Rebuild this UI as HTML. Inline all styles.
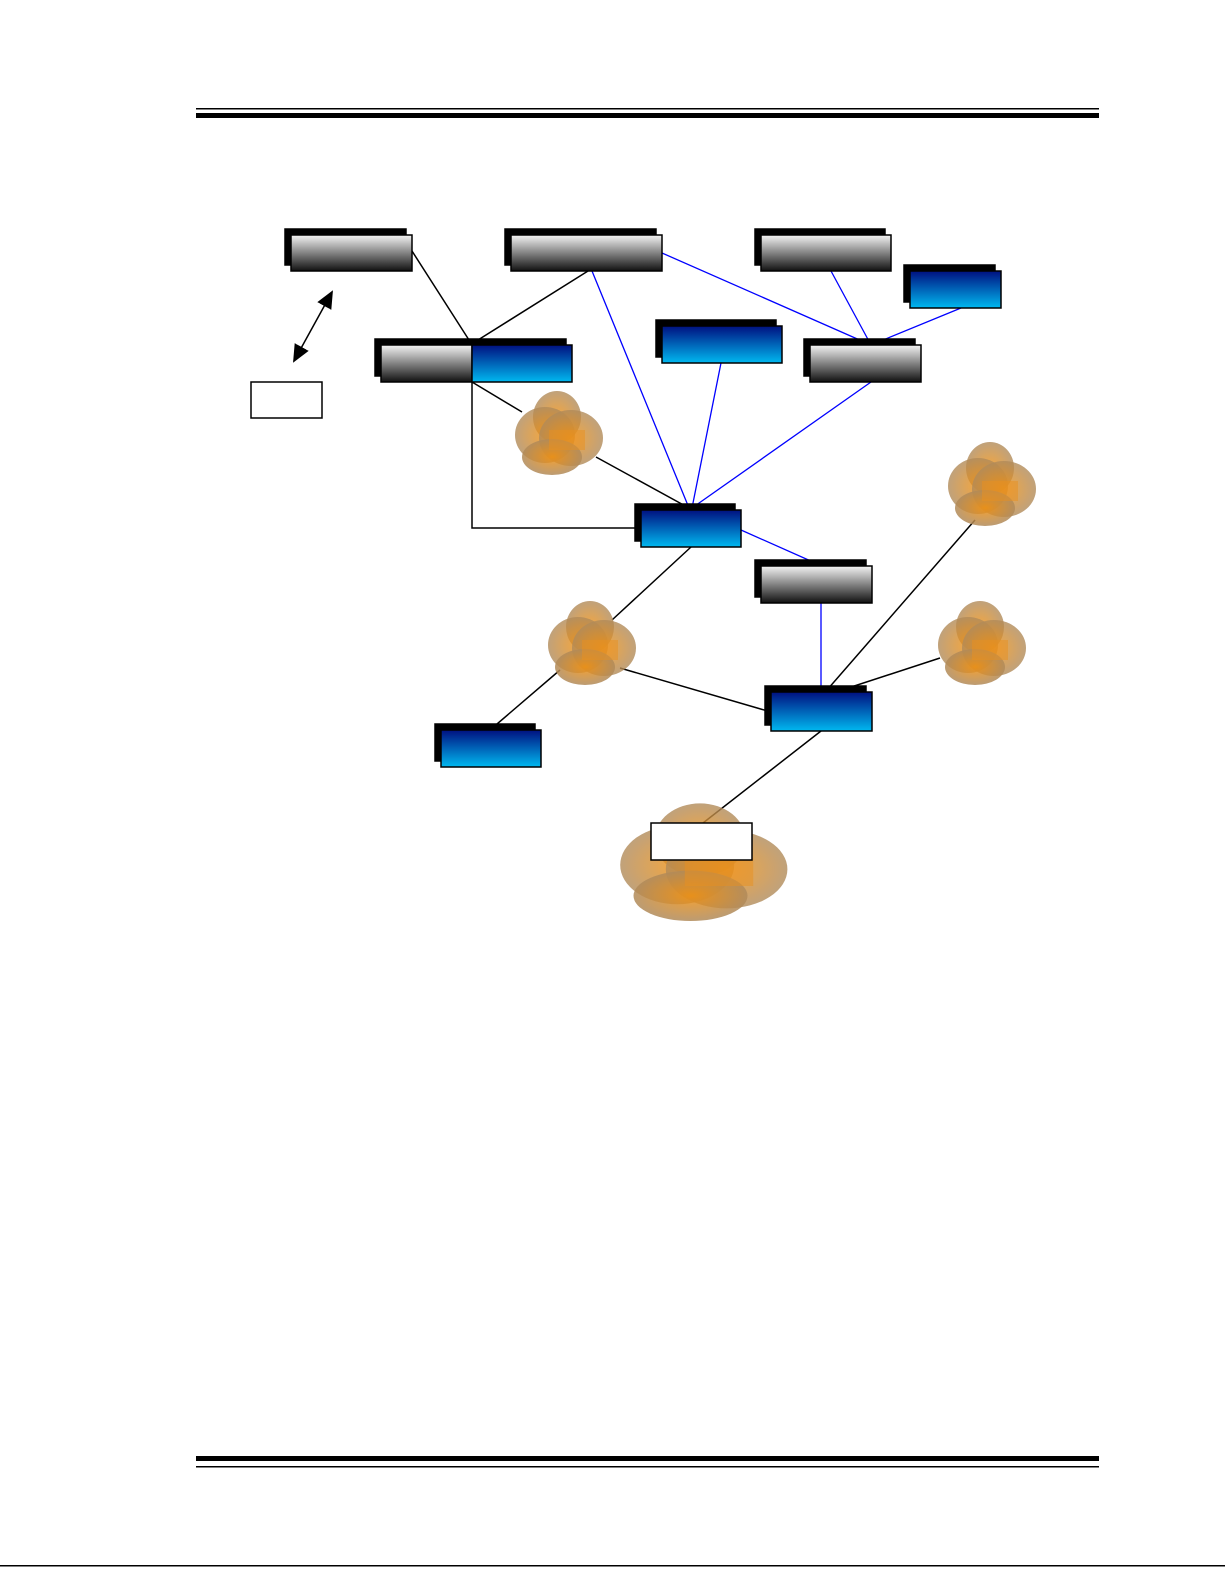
<!DOCTYPE html><html><head><style>body{margin:0;background:#fff}</style></head><body>
<svg width="1225" height="1585" xmlns="http://www.w3.org/2000/svg">
<defs>
<linearGradient id="g" x1="0" y1="0" x2="0" y2="1"><stop offset="0" stop-color="#f4f4f4"/><stop offset="1" stop-color="#111"/></linearGradient>
<linearGradient id="b" x1="0" y1="0" x2="0" y2="1"><stop offset="0" stop-color="#001080"/><stop offset="1" stop-color="#00b8f0"/></linearGradient>
<radialGradient id="c"><stop offset="0" stop-color="#f09010"/><stop offset="1" stop-color="#b08a5a"/></radialGradient>
<marker id="ah" markerWidth="18" markerHeight="16" refX="16" refY="8" orient="auto-start-reverse" markerUnits="userSpaceOnUse"><path d="M0,0 L18,8 L0,16z" fill="#000"/></marker>
<g id="cl"><ellipse cx="0" cy="-18" rx="24" ry="26" fill="url(#c)" opacity=".8"/><ellipse cx="-12" cy="0" rx="30" ry="28" fill="url(#c)" opacity=".8"/><ellipse cx="14" cy="3" rx="32" ry="28" fill="url(#c)" opacity=".8"/><ellipse cx="-5" cy="22" rx="30" ry="18" fill="url(#c)" opacity=".85"/><rect x="-8" y="-5" width="36" height="20" fill="#e89020" opacity=".5"/></g>
</defs>
<rect x="196" y="108" width="903" height="1.5" fill="#000"/>
<rect x="196" y="113" width="903" height="5" fill="#000"/>
<rect x="196" y="1456" width="903" height="5" fill="#000"/>
<rect x="196" y="1466" width="903" height="1.5" fill="#000"/>
<rect x="0" y="1565" width="1225" height="1.5" fill="#000"/>
<g stroke="#000" stroke-width="1.5" fill="none">
<path d="M412,251L469,340M588,271L478,340M472,382L522,412M596,457L689,508M472,382V528H641M691,547L612,620M560,670L497,724M620,668L771,712M827,690L975,520M842,690L940,658M821,731L703,823"/>
<path d="M332,292L294,361" marker-start="url(#ah)" marker-end="url(#ah)"/>
</g>
<g stroke="#00f" stroke-width="1.3" fill="none">
<path d="M592,271L689,508M721,363L692,508M871,382L692,508M662,253L871,345M831,271L871,345M961,308L871,345M741,530L822,566M821,603V692"/>
</g>
<use href="#cl" x="557" y="435"/>
<use href="#cl" x="990" y="486"/>
<use href="#cl" x="590" y="645"/>
<use href="#cl" x="980" y="645"/>
<g transform="translate(700,865) scale(1.9,1.4)"><use href="#cl"/></g>
<g stroke="#000" stroke-width="1.5">
<rect x="285" y="229" width="121" height="36" fill="#000"/><rect x="291" y="235" width="121" height="36" fill="url(#g)"/>
<rect x="505" y="229" width="151" height="36" fill="#000"/><rect x="511" y="235" width="151" height="36" fill="url(#g)"/>
<rect x="755" y="229" width="130" height="36" fill="#000"/><rect x="761" y="235" width="130" height="36" fill="url(#g)"/>
<rect x="904" y="265" width="91" height="37" fill="#000"/><rect x="910" y="271" width="91" height="37" fill="url(#b)"/>
<rect x="375" y="339" width="191" height="37" fill="#000"/><rect x="381" y="345" width="91" height="37" fill="url(#g)"/><rect x="472" y="345" width="100" height="37" fill="url(#b)"/>
<rect x="656" y="320" width="120" height="37" fill="#000"/><rect x="662" y="326" width="120" height="37" fill="url(#b)"/>
<rect x="804" y="339" width="111" height="37" fill="#000"/><rect x="810" y="345" width="111" height="37" fill="url(#g)"/>
<rect x="635" y="504" width="100" height="37" fill="#000"/><rect x="641" y="510" width="100" height="37" fill="url(#b)"/>
<rect x="755" y="560" width="111" height="37" fill="#000"/><rect x="761" y="566" width="111" height="37" fill="url(#g)"/>
<rect x="765" y="686" width="101" height="39" fill="#000"/><rect x="771" y="692" width="101" height="39" fill="url(#b)"/>
<rect x="435" y="724" width="100" height="37" fill="#000"/><rect x="441" y="730" width="100" height="37" fill="url(#b)"/>
<rect x="251" y="382" width="71" height="36" fill="#fff"/>
<rect x="651" y="823" width="101" height="37" fill="#fff"/>
</g>
</svg></body></html>
